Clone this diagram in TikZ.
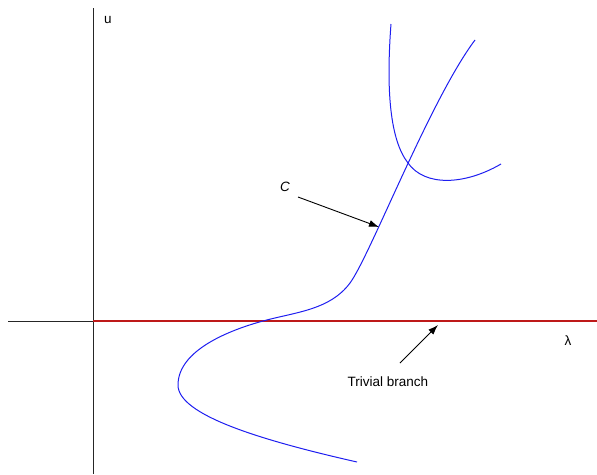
\documentclass[tikz,border=0pt]{standalone}
\usepackage{fontspec}
\setmainfont{Liberation Sans}
\usetikzlibrary{arrows.meta}
\definecolor{curveblue}{RGB}{30,30,240}
\definecolor{trivred}{RGB}{190,25,25}
\tikzset{
  axis/.style={draw=black!85, line width=1pt},
  branch/.style={draw=curveblue, line width=1pt},
  trivial/.style={draw=trivred, line width=1.3pt},
  pointer/.style={draw=black, line width=0.9pt, -{Latex[length=10pt,width=7pt]}},
  lbl/.style={font=\fontsize{13.5}{16}\selectfont, inner sep=0pt}
}
\begin{document}
\begin{tikzpicture}[x=1pt,y=-1pt]
\useasboundingbox (0,0) rectangle (597,474);
% axes
\draw[axis] (93,8) -- (93,474);
\draw[axis] (8,321) -- (93,321);
\draw[trivial] (93,321) -- (597,321);
% curve C
\draw[branch] (357,462) .. controls (260,440) and (178,415) .. (178,385)
  .. controls (178,350) and (230,330) .. (263,321)
  .. controls (296,312) and (330,310) .. (350,283)
  .. controls (370,256) and (430,100) .. (475,40);
% second branch
\draw[branch] (391,24) .. controls (386,90) and (390,140) .. (408,163)
  .. controls (425,187) and (465,185) .. (501,164);
% labels
\node[lbl] (u) at (108,20) {u};
\node[lbl] (lam) at (568,341) {λ};
\node[lbl, font=\fontsize{13.5}{16}\selectfont\itshape] (C) at (285,187) {C};
\node[lbl] (triv) at (388,382) {Trivial branch};
\coordinate (cpt) at (379,227);
\coordinate (tpt) at (438,325);
\draw[pointer] (298,197) -- (cpt);
\draw[pointer] (400,363) -- (tpt);
\end{tikzpicture}
\end{document}
